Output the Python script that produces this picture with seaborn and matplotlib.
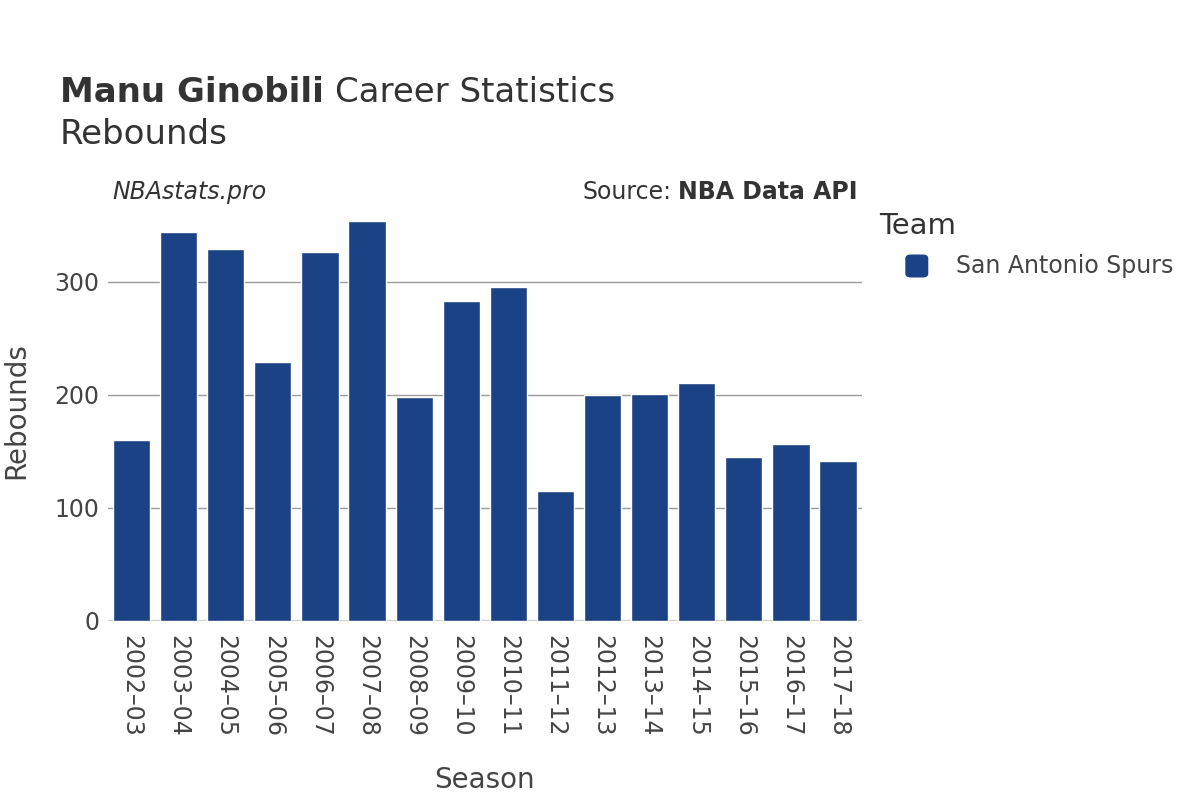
import numpy as np
import pandas as pd
import seaborn as sns
import matplotlib.pyplot as plt
from matplotlib.patches import FancyBboxPatch

# data
seasons = ["2002–03", "2003–04", "2004–05", "2005–06", "2006–07", "2007–08",
           "2008–09", "2009–10", "2010–11", "2011–12", "2012–13", "2013–14",
           "2014–15", "2015–16", "2016–17", "2017–18"]
rebounds = [160, 344, 329, 229, 326, 354, 198, 283, 295, 115, 200, 201,
            210, 145, 156, 141]
team = "San Antonio Spurs"

df = pd.DataFrame({"Season": seasons, "Rebounds": rebounds, "Team": team})

sns.set_style("white")
plt.rcParams['font.family'] = ['DejaVu Sans']

bar_color = "#1c4286"
text_color = "#444444"

fig = plt.figure(figsize=(12, 8), dpi=100)
ax = fig.add_axes([0.09, 0.224, 0.628, 0.525])

sns.barplot(data=df, x="Season", y="Rebounds", hue="Team", palette=[bar_color],
            width=0.79, ax=ax, legend=False, saturation=1)

ax.set_ylim(0, 371.6)
ax.set_xlim(-0.5, len(seasons) - 0.5)
ax.set_yticks([0, 100, 200, 300])
ax.yaxis.grid(True, color="#999999", linewidth=1)
ax.set_axisbelow(True)
ax.axhline(0, color="#dddddd", linewidth=2.5, zorder=0.5)
for s in ax.spines.values():
    s.set_visible(False)

ax.tick_params(axis="both", length=0, labelsize=17, labelcolor=text_color, pad=6)
ax.tick_params(axis="x", pad=10)
plt.setp(ax.get_xticklabels(), rotation=270, va="top", ha="center")

ax.set_xlabel("Season", fontsize=20, color=text_color)
ax.set_ylabel("Rebounds", fontsize=20, color=text_color)
ax.xaxis.set_label_coords(0.5, -0.345)
ax.yaxis.set_label_coords(-0.103, 0.5)

# title: bold name followed by regular text
fig.canvas.draw()
renderer = fig.canvas.get_renderer()
t1 = fig.text(0.05, 0.873, "Manu Ginobili", fontsize=24.5, fontweight="bold",
              color="#333333", va="baseline")
bb = t1.get_window_extent(renderer=renderer)
fig.text(bb.x1 / 1200 + 0.009, 0.873, "Career Statistics", fontsize=24.5,
         color="#333333", va="baseline")
fig.text(0.05, 0.82, "Rebounds", fontsize=24.5, color="#333333", va="baseline")

# annotations
fig.text(0.094, 0.76, "NBAstats.pro", fontsize=17, style="italic",
         color="#333333", va="center")
t2 = fig.text(0.715, 0.76, "NBA Data API", fontsize=17, fontweight="bold",
              color="#333333", va="center", ha="right")
bb2 = t2.get_window_extent(renderer=renderer)
fig.text(bb2.x0 / 1200 - 0.006, 0.76, "Source:", fontsize=17,
         color="#333333", va="center", ha="right")

# legend
fig.text(0.733, 0.717, "Team", fontsize=21, color="#333333", va="center")
fig.patches.append(FancyBboxPatch(
    (0.755, 0.654), 0.018, 0.027, boxstyle="round,pad=0.0,rounding_size=0.004",
    transform=fig.transFigure, facecolor=bar_color, edgecolor=bar_color,
    figure=fig))
fig.text(0.797, 0.667, team, fontsize=17, color=text_color, va="center")

fig.savefig("out.png", dpi=100, facecolor="white")
